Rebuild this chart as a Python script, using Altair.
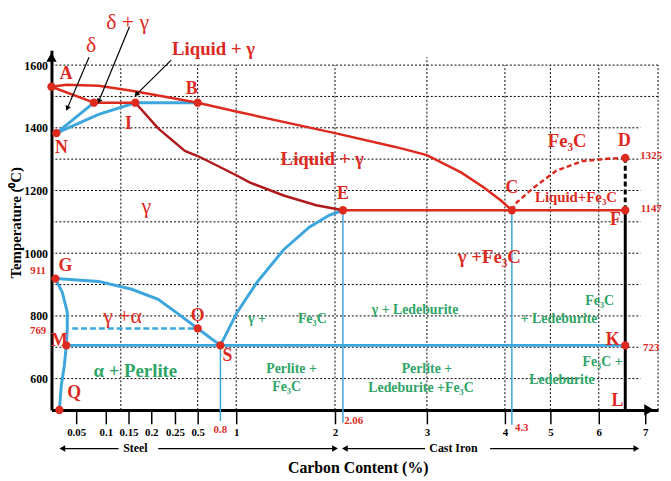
import altair as alt
import pandas as pd

FONT = "Liberation Serif"
RED = "#dd2a1f"
DARK_RED = "#b01a1c"
BLUE = "#3da6dc"
GREEN = "#2ea566"

# ---------------- axes (carbon %, temperature degC) ----------------
X_STOPS = [0, 0.05, 0.1, 0.15, 0.2, 0.25, 0.5, 0.8, 1, 2, 2.06, 3, 4, 4.3, 5, 6, 7, 7.3]
X_PIXELS = [0, 25, 55, 78, 101, 125, 148, 171, 187, 287, 295, 380, 459, 466, 505, 554, 601, 614]
X_TICKS = [0.05, 0.1, 0.15, 0.2, 0.25, 0.5, 1, 2, 3, 4, 5, 6, 7]
Y_TICKS = [600, 800, 1000, 1200, 1400, 1600]
T_DOMAIN = [500, 1647]

# ---------------- grid ----------------
GRID_H_T = [600, 700, 800, 900, 1000, 1100, 1200, 1300, 1400, 1500, 1600]
GRID_H_END = [6.9, 6.9, 6.9, 6.9, 6.9, 6.9, 6.9, 6.9, 6.9, 7.3, 7.3]
GRID_V_C = [0.133, 0.5, 1, 2, 3, 4, 5, 6, 7.3]
GRID_V_TOP = [1600, 1600, 1600, 1600, 1625, 1600, 1600, 1600, 1600]

# ---------------- phase boundaries ----------------
LIQUIDUS_C = [0, 0.03, 0.088, 0.157, 0.229, 0.5, 1, 2, 2.646, 3, 3.443, 3.734, 3.949, 4.3]
LIQUIDUS_T = [1531, 1537, 1534, 1518, 1499, 1480, 1452, 1383, 1339, 1313, 1257, 1209, 1168, 1137]
AH_C, AH_T = [0, 0.08], [1531, 1480]
HI_C, HI_T = [0.08, 0.165], [1480, 1480]
EF_C, EF_T = [2.06, 6.57], [1137, 1137]
SOLIDUS_C = [0.165, 0.2146, 0.359, 0.5, 0.761, 1.01, 1.14, 1.48, 1.81, 2.06]
SOLIDUS_T = [1480, 1398, 1326, 1310, 1279, 1247, 1225, 1184, 1153, 1137]
CD_C = [4.3, 4.39, 4.695, 5.12, 5.67, 6.23, 6.57]
CD_T = [1137, 1162, 1209, 1263, 1294, 1302, 1304]
DF_C, DF_T = [6.57, 6.57], [1304, 1137]
FL_C, FL_T = [6.57, 6.57], [1137, 500]

IB_C, IB_T = [0.165, 0.5], [1480, 1480]
NH_C, NH_T = [0.01, 0.08], [1383, 1480]
NI_C, NI_T = [0.01, 0.088, 0.165], [1383, 1443, 1480]
GOS_C = [0.008, 0.088, 0.157, 0.2146, 0.315, 0.5, 0.8]
GOS_T = [919, 910, 885, 853, 800, 760, 706]
GMQ_C = [0.008, 0.022, 0.032, 0.032, 0.03, 0.026, 0.02, 0.016]
GMQ_T = [919, 875, 812, 759, 706, 642, 579, 500]
SE_C = [0.8, 1.01, 1.21, 1.48, 1.74, 1.94, 2.06]
SE_T = [706, 812, 907, 1011, 1083, 1121, 1137]
MK_C, MK_T = [0.03, 6.57], [706, 706]
MAG_C, MAG_T = [0.042, 0.5], [760, 760]
V08_C, V08_T = [0.8, 0.8], [706, 465]
V206_C, V206_T = [2.06, 2.06], [1137, 459]
V43_C, V43_T = [4.3, 4.3], [1137, 453]

# ---------------- points ----------------
PT_NAMES = ["A", "H", "I", "B", "N", "E", "C", "D", "F", "G", "O", "M", "S", "K", "Q"]
PT_C = [0, 0.08, 0.165, 0.5, 0.01, 2.06, 4.3, 6.57, 6.57, 0.008, 0.5, 0.03, 0.8, 6.57, 0.016]
PT_T = [1531, 1480, 1480, 1480, 1383, 1137, 1137, 1304, 1137, 919, 760, 706, 706, 706, 500]

# ---------------- labels ----------------
LETTERS = ["A", "B", "I", "N", "E", "C", "D", "F", "G", "O", "M", "S", "K", "L", "Q"]
LETTERS_C = [0.03, 0.435, 0.15, 0.02, 2.06, 4.3, 6.553, 6.36, 0.028, 0.5, 0.016, 0.888, 6.30, 6.40, 0.046]
LETTERS_T = [1572, 1524, 1411, 1335, 1190, 1209, 1357, 1105, 960, 799, 721, 673, 724, 528, 554]

RED_BIG = ["Liquid + γ", "Liquid + γ", "Fe₃C", "γ +Fe₃C"]
RED_BIG_C = [0.709, 1.87, 5.347, 3.80]
RED_BIG_T = [1650, 1301, 1357, 989]

RED_MID = ["Liquid+Fe₃C"]
RED_MID_C = [5.53]
RED_MID_T = [1178]

GREEK = ["δ + γ", "δ", "γ", "γ +α"]
GREEK_C = [0.148, 0.075, 0.189, 0.137]
GREEK_T = [1738, 1663, 1149, 799]

RIGHT_TEMPS = ["1325", "1147", "723"]
RIGHT_C = [7.14, 7.14, 7.14]
RIGHT_T = [1310, 1140, 699]

RED_NUMS = ["911", "769", "0.8", "2.06", "4.3"]
RED_NUMS_C = [-0.027, -0.027, 0.8, 2.18, 4.48]
RED_NUMS_T = [944, 751, 437, 465, 443]

GREEN_TXT = ["γ +", "Fe₃C", "γ + Ledeburite", "Perlite +", "Fe₃C", "Perlite +",
             "Ledeburite  +Fe₃C", "Fe₃C", "+ Ledeburite", "Fe₃C +", "Ledeburite"]
GREEN_C = [1.21, 1.77, 2.867, 1.56, 1.51, 3.0, 2.934, 6.02, 5.18, 6.08, 5.24]
GREEN_T = [790, 790, 818, 632, 572, 632, 569, 847, 790, 654, 595]

GREEN_BIG = ["α + Perlite"]
GREEN_BIG_C = [0.165]
GREEN_BIG_T = [623]

# annotation arrows (tail -> head)
ANN_TAIL_C = [0.0717, 0.152, 0.242]
ANN_TAIL_T = [1625, 1722, 1616]
ANN_HEAD_C = [0.032, 0.088, 0.167]
ANN_HEAD_T = [1462, 1484, 1506]
ANN_ANGLE = [203, 202, 225]

# steel / cast iron range arrows
RANGE_T = 377
RANGE_SEG_C0 = [0.022, 0.2146, 2.082, 3.81]
RANGE_SEG_C1 = [0.128, 2.0, 2.98, 6.81]
RANGE_LEFT_HEADS = [0.022, 2.082]
RANGE_RIGHT_HEADS = [2.0, 6.81]
RANGE_TEXT = ["Steel", "Cast Iron"]
RANGE_TEXT_C = [0.165, 3.34]

AXIS_ARROW_UP = (0, 1625)
AXIS_ARROW_RIGHT = (7.092, 500)

# ---------------- chart helpers ----------------
xscale = alt.Scale(domain=X_STOPS, range=X_PIXELS, nice=False, zero=False)
yscale = alt.Scale(domain=T_DOMAIN, nice=False, zero=False)

XAXIS = alt.Axis(values=X_TICKS, title="Carbon Content (%)", grid=False,
                 domainColor="black", domainWidth=3, tickColor="black", tickWidth=1.5,
                 tickSize=14, labelFont=FONT, labelFontWeight="bold", labelFontSize=11,
                 labelColor="black", labelPadding=3, labelExpr="'' + datum.value",
                 labelOverlap=False, labelFlush=False, titleFont=FONT, titleFontSize=16,
                 titleFontWeight="bold", titleColor="black", titleX=310, titleY=63,
                 titleAlign="center", titleBaseline="alphabetic")
YAXIS = alt.Axis(values=Y_TICKS, title="Temperature (⁰C)", grid=False, ticks=False,
                 domainColor="black", domainWidth=3, labelFont=FONT, labelFontWeight="bold",
                 labelFontSize=12, labelColor="black", labelPadding=4, labelOverlap=False,
                 labelExpr="'' + datum.value",
                 titleFont=FONT, titleFontSize=15, titleFontWeight="bold", titleColor="black",
                 titleAngle=270, titleX=-31, titleY=174, titleAlign="center",
                 titleBaseline="alphabetic")


def X(field="c"):
    return alt.X(f"{field}:Q", scale=xscale, axis=XAXIS)


def Y(field="t"):
    return alt.Y(f"{field}:Q", scale=yscale, axis=YAXIS)


def seg_df(segments):
    rows = []
    for k, (cs, ts) in enumerate(segments):
        for i, (c, t) in enumerate(zip(cs, ts)):
            rows.append({"seg": k, "ord": i, "c": c, "t": t})
    return pd.DataFrame(rows)


def lines(segments, color, width, dash=None):
    kw = dict(color=color, strokeWidth=width, interpolate="linear")
    if dash:
        kw["strokeDash"] = dash
    return alt.Chart(seg_df(segments)).mark_line(**kw).encode(
        x=X(), y=Y(), detail="seg:N", order="ord:Q")


def texts(labels, cs, ts, color, size, weight="bold"):
    df = pd.DataFrame({"label": labels, "c": cs, "t": ts})
    return alt.Chart(df).mark_text(font=FONT, fontSize=size, fontWeight=weight, color=color,
                                   align="center", baseline="middle").encode(
        x=X(), y=Y(), text="label:N")


def heads(cs, ts, shape, size, angles=None):
    df = pd.DataFrame({"c": cs, "t": ts})
    enc = dict(x=X(), y=Y())
    if angles is not None:
        df["ang"] = angles
        enc["angle"] = alt.Angle("ang:Q", scale=None)
    return alt.Chart(df).mark_point(shape=shape, filled=True, size=size, color="black",
                                    opacity=1).encode(**enc)


layers = []

# grid
gh = [([0, e], [t, t]) for t, e in zip(GRID_H_T, GRID_H_END)]
gv = [([c, c], [500, top]) for c, top in zip(GRID_V_C, GRID_V_TOP)]
layers.append(lines(gh + gv, "black", 1, [2, 2]))

# blue boundaries
layers.append(lines([(V08_C, V08_T), (V206_C, V206_T), (V43_C, V43_T)], BLUE, 1.5))
layers.append(lines([(MAG_C, MAG_T)], BLUE, 2.5, [6, 3]))
layers.append(lines([(IB_C, IB_T), (NH_C, NH_T), (NI_C, NI_T), (GOS_C, GOS_T),
                     (GMQ_C, GMQ_T), (SE_C, SE_T), (MK_C, MK_T)], BLUE, 3))

# red boundaries
layers.append(lines([(SOLIDUS_C, SOLIDUS_T)], DARK_RED, 2.5))
layers.append(lines([(LIQUIDUS_C, LIQUIDUS_T), (AH_C, AH_T), (HI_C, HI_T), (EF_C, EF_T)], RED, 2.5))
layers.append(lines([(CD_C, CD_T)], RED, 2.5, [5, 3]))

# black cementite line
layers.append(lines([(DF_C, DF_T)], "black", 3, [5, 3]))
layers.append(lines([(FL_C, FL_T)], "black", 3))

# annotation arrows
layers.append(lines([([a, b], [c, d]) for a, c, b, d in
                     zip(ANN_TAIL_C, ANN_TAIL_T, ANN_HEAD_C, ANN_HEAD_T)], "black", 1.2))
layers.append(heads(ANN_HEAD_C, ANN_HEAD_T, "triangle-up", 35, ANN_ANGLE))

# steel / cast iron arrows
layers.append(lines([([a, b], [RANGE_T, RANGE_T]) for a, b in zip(RANGE_SEG_C0, RANGE_SEG_C1)],
                    "black", 1.3))
layers.append(heads(RANGE_LEFT_HEADS, [RANGE_T] * 2, "triangle-left", 45))
layers.append(heads(RANGE_RIGHT_HEADS, [RANGE_T] * 2, "triangle-right", 45))
layers.append(texts(RANGE_TEXT, RANGE_TEXT_C, [RANGE_T] * 2, "black", 12))

# axis arrows
layers.append(heads([AXIS_ARROW_UP[0]], [AXIS_ARROW_UP[1]], "triangle-up", 110))
layers.append(heads([AXIS_ARROW_RIGHT[0]], [AXIS_ARROW_RIGHT[1]], "triangle-right", 130))

# points
pts = pd.DataFrame({"name": PT_NAMES, "c": PT_C, "t": PT_T})
layers.append(alt.Chart(pts).mark_circle(size=70, color=RED, opacity=1).encode(x=X(), y=Y()))

# labels
layers.append(texts(LETTERS, LETTERS_C, LETTERS_T, RED, 18))
layers.append(texts(RED_BIG, RED_BIG_C, RED_BIG_T, RED, 19))
layers.append(texts(RED_MID, RED_MID_C, RED_MID_T, RED, 15))
layers.append(texts(GREEK, GREEK_C, GREEK_T, RED, 22, "normal"))
layers.append(texts(RIGHT_TEMPS, RIGHT_C, RIGHT_T, RED, 11))
layers.append(texts(RED_NUMS, RED_NUMS_C, RED_NUMS_T, RED, 11))
layers.append(texts(GREEN_TXT, GREEN_C, GREEN_T, GREEN, 14))
layers.append(texts(GREEN_BIG, GREEN_BIG_C, GREEN_BIG_T, GREEN, 19))

chart = alt.layer(*layers).properties(
    width=614, height=364,
    autosize=alt.AutoSizeParams(type="none"),
    padding={"left": 44, "top": 40, "right": 5, "bottom": 67},
    background="white",
).configure_view(stroke=None)

chart.save("out.html", embed_options={"renderer": "svg", "actions": False})
